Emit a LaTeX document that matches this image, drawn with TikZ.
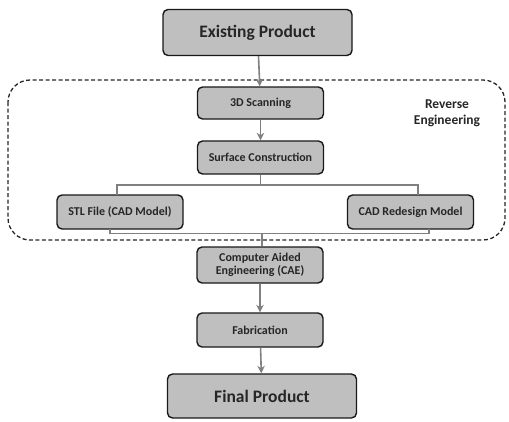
\documentclass[tikz,border=0pt]{standalone}
\usepackage{fontspec}
\setmainfont{Carlito}
\usepackage{xcolor}
\usetikzlibrary{arrows.meta, positioning, calc}
\definecolor{boxfill}{RGB}{191,191,191}
\definecolor{linegray}{RGB}{128,128,128}
\definecolor{textdark}{RGB}{38,38,38}
\tikzset{
	stepbox/.style={draw=black!90, fill=boxfill, rounded corners=5pt, line width=1.4pt, text=textdark, align=center, font=\bfseries\fontsize{12}{13}\selectfont, minimum width=126pt, minimum height=33pt, inner sep=1pt},
	endbox/.style={stepbox, minimum width=189pt, minimum height=46pt, font=\bfseries\fontsize{17.5}{20}\selectfont},
	flowarr/.style={->, draw=linegray, line width=1.6pt},
	joinline/.style={draw=linegray, line width=1.2pt},
	groupbox/.style={draw=black!85, dash pattern=on 4pt off 2.5pt, line width=1.3pt, rounded corners=22pt},
}

\begin{document}
\begin{tikzpicture}[x=1pt, y=-1pt, >={Stealth[length=7.5pt, width=7.5pt]}]
	\useasboundingbox (0,0) rectangle (509,421);
	% reverse engineering group
	\draw[groupbox] (8,80) rectangle (505,240);
	\node[font=\bfseries\fontsize{13.5}{16}\selectfont, text=textdark, align=center] (relabel) at (447,113) {Reverse\\Engineering};
	% stages
	\node[endbox] (exist) at (257.5,32.5) {Existing Product};
	\node[stepbox, minimum height=32pt] (scan) at (260.5,103) {3D Scanning};
	\node[stepbox] (surf) at (260.5,157.5) {Surface Construction};
	\node[stepbox, minimum height=34pt] (stl) at (120,212) {STL File (CAD Model)};
	\node[stepbox, minimum height=34pt] (cadr) at (410.5,212) {CAD Redesign Model};
	\node[stepbox, minimum height=36pt] (cae) at (260,265) {Computer Aided\\Engineering (CAE)};
	\node[stepbox, minimum height=34pt] (fab) at (260,330) {Fabrication};
	\node[endbox, minimum height=44pt] (final) at (262,396) {Final Product};
	% branch and join points
	\coordinate (split) at (260.5,185);
	\coordinate (stltop) at (117,195);
	\coordinate (cadtop) at (418,195);
	\coordinate (merge) at (262,233.5);
	\coordinate (stlbot) at (110,229);
	\coordinate (cadbot) at (429,229);
	% connectors
	\draw[flowarr] (exist) -- (scan);
	\draw[flowarr] (scan) -- (surf);
	\draw[joinline] (surf.south) -- (split);
	\draw[joinline] (stltop) |- (split) -| (cadtop);
	\draw[joinline] (stlbot) |- (merge) -| (cadbot);
	\draw[joinline] (merge) -- (cae.north -| merge);
	\draw[flowarr] (cae) -- (fab);
	\draw[flowarr] (fab) -- (final);
\end{tikzpicture}
\end{document}
